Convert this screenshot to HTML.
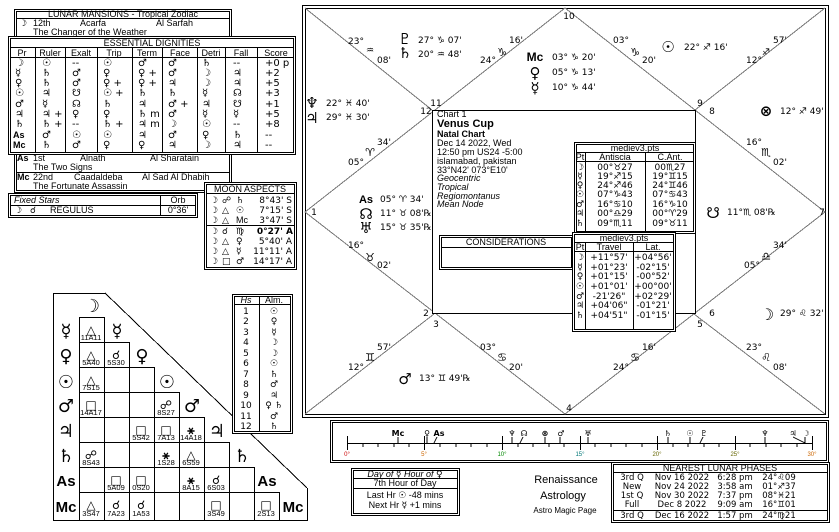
<!DOCTYPE html>
<html><head><meta charset="utf-8"><style>
html,body{margin:0;padding:0;background:#fff;width:839px;height:532px;overflow:hidden}
svg{display:block;font-family:"Liberation Sans","DejaVu Sans",sans-serif;font-size:9px}
text{fill:#000}
.s{font-family:"DejaVu Sans","Liberation Sans",sans-serif}
.b{font-weight:bold}
.c{text-anchor:middle}
.r{text-anchor:end}
.i{font-style:italic}
line,rect,polyline,path{stroke:#000;fill:none;shape-rendering:crispEdges}
</style></head><body>
<svg width="839" height="532" viewBox="0 0 839 532" xmlns="http://www.w3.org/2000/svg">

<!-- ===== MAIN CHART ===== -->
<rect x="302.5" y="5.5" width="526" height="412"/>
<rect x="305.5" y="8.5" width="520" height="406"/>
<g>
<line x1="305" y1="8" x2="432" y2="110" style="stroke:#777"/>
<line x1="825" y1="8" x2="695" y2="110" style="stroke:#777"/>
<line x1="305" y1="414" x2="434" y2="314" style="stroke:#777"/>
<line x1="825" y1="414" x2="694" y2="314" style="stroke:#777"/>
<polyline points="565,8 305,212 565,414 825,212 565,8" style="stroke:#777"/>
</g>
<rect x="432.5" y="110.5" width="263" height="203" style="fill:#fff"/>

<g class="s">
<text x="569" y="19" class="c">10</text>
<text x="436" y="106" class="c">11</text><text x="426" y="114" class="c">12</text>
<text x="700" y="106" class="c">9</text><text x="712" y="114" class="c">8</text>
<text x="314" y="215" class="c">1</text><text x="822" y="215" class="c">7</text>
<text x="426" y="316" class="c">2</text><text x="436" y="327" class="c">3</text>
<text x="712" y="316" class="c">6</text><text x="700" y="327" class="c">5</text>
<text x="569" y="411" class="c">4</text>

<text x="356" y="44" class="c">23°</text><text x="370" y="53" class="c">♒</text><text x="384" y="63" class="c">08'</text>
<text x="516" y="43" class="c">16'</text><text x="502" y="56" class="c" style="font-size:11px">♑</text><text x="488" y="63" class="c">24°</text>
<text x="621" y="43" class="c">03°</text><text x="635" y="56" class="c" style="font-size:11px">♑</text><text x="649" y="63" class="c">20'</text>
<text x="780" y="43" class="c">57'</text><text x="766" y="55" class="c">♐</text><text x="754" y="63" class="c">12°</text>
<text x="384" y="145" class="c">34'</text><text x="370" y="156" class="c" style="font-size:11px">♈</text><text x="356" y="165" class="c">05°</text>
<text x="754" y="145" class="c">16°</text><text x="766" y="156" class="c" style="font-size:11px">♏</text><text x="780" y="165" class="c">02'</text>
<text x="356" y="248" class="c">16°</text><text x="370" y="261" class="c" style="font-size:11px">♉</text><text x="384" y="268" class="c">02'</text>
<text x="780" y="248" class="c">34'</text><text x="766" y="260" class="c" style="font-size:11px">♎</text><text x="752" y="268" class="c">05°</text>
<text x="384" y="350" class="c">57'</text><text x="370" y="361" class="c" style="font-size:11px">♊</text><text x="356" y="370" class="c">12°</text>
<text x="488" y="350" class="c">03°</text><text x="502" y="361" class="c" style="font-size:11px">♋</text><text x="516" y="370" class="c">20'</text>
<text x="649" y="350" class="c">16'</text><text x="635" y="361" class="c" style="font-size:11px">♋</text><text x="621" y="370" class="c">24°</text>
<text x="754" y="350" class="c">23°</text><text x="766" y="361" class="c" style="font-size:11px">♌</text><text x="780" y="370" class="c">08'</text>

<text x="405" y="44" class="c b" style="font-size:15px">♇</text><text x="418" y="43">27° ♑ 07'</text>
<text x="405" y="58" class="c b" style="font-size:15px">♄</text><text x="418" y="57">20° ♒ 48'</text>
<text x="535" y="61" class="c b" style="font-size:12px;font-family:'Liberation Sans'">Mc</text><text x="552" y="60">03° ♑ 20'</text>
<text x="535" y="78" class="c b" style="font-size:15px">♀</text><text x="552" y="75">05° ♑ 13'</text>
<text x="535" y="93" class="c b" style="font-size:15px">☿</text><text x="552" y="90">10° ♑ 44'</text>
<text x="668" y="52" class="c b" style="font-size:15px">☉</text><text x="684" y="50">22° ♐ 16'</text>
<text x="312" y="108" class="c b" style="font-size:15px">♆</text><text x="326" y="106">22° ♓ 40'</text>
<text x="312" y="123" class="c b" style="font-size:15px">♃</text><text x="326" y="120">29° ♓ 30'</text>
<text x="766" y="116" class="c b" style="font-size:15px">⊗</text><text x="780" y="114">12° ♐ 49'</text>
<text x="366" y="203" class="c b" style="font-size:11px;font-family:'Liberation Sans'">As</text><text x="380" y="202">05° ♈ 34'</text>
<text x="366" y="219" class="c b" style="font-size:15px">☊</text><text x="380" y="216">11° ♉ 08'℞</text>
<text x="366" y="233" class="c b" style="font-size:15px">♅</text><text x="380" y="230">15° ♉ 35'℞</text>
<text x="713" y="218" class="c b" style="font-size:15px">☋</text><text x="727" y="215">11°♏ 08'℞</text>
<text x="767" y="320" class="c b" style="font-size:16px">☽</text><text x="780" y="316">29° ♌ 32'</text>
<text x="405" y="384" class="c b" style="font-size:15px">♂</text><text x="419" y="381">13° ♊ 49'℞</text>
</g>

<!-- center text -->
<text x="437" y="117">Chart 1</text>
<text x="437" y="127" class="b" style="font-size:11px">Venus Cup</text>
<text x="437" y="137" class="b">Natal Chart</text>
<text x="437" y="146">Dec 14 2022, Wed</text>
<text x="437" y="155">12:50 pm  US24 -5:00</text>
<text x="437" y="164">islamabad, pakistan</text>
<text x="437" y="173">33°N42' 073°E10'</text>
<text x="437" y="181" class="i">Geocentric</text>
<text x="437" y="190" class="i">Tropical</text>
<text x="437" y="199" class="i">Regiomontanus</text>
<text x="437" y="207" class="i">Mean Node</text>

<rect x="439.5" y="235.5" width="134" height="34" style="fill:#fff"/>
<rect x="441.5" y="237.5" width="130" height="30"/>
<line x1="441" y1="247.5" x2="572" y2="247.5"/>
<text x="506" y="245" class="c">CONSIDERATIONS</text>

<!-- mediev table 1 -->
<rect x="574.5" y="142.5" width="121" height="91" style="fill:#fff"/>
<rect x="576.5" y="144.5" width="117" height="87"/>
<line x1="576" y1="152.5" x2="694" y2="152.5"/>
<line x1="576" y1="161.5" x2="694" y2="161.5"/>
<line x1="585.5" y1="152" x2="585.5" y2="232"/>
<line x1="645.5" y1="152" x2="645.5" y2="232"/>
<text x="635" y="151" class="c">mediev3.pts</text>
<text x="580" y="160" class="c">Pt</text><text x="615" y="160" class="c">Antiscia</text><text x="670" y="160" class="c">C.Ant.</text>
<g class="s">
<text x="580" y="170" class="c b">☽</text><text x="615" y="170" class="c">00°♉27</text><text x="670" y="170" class="c">00♏27</text>
<text x="580" y="179" class="c b">☿</text><text x="615" y="179" class="c">19°♐15</text><text x="670" y="179" class="c">19°♊15</text>
<text x="580" y="188" class="c b">♀</text><text x="615" y="188" class="c">24°♐46</text><text x="670" y="188" class="c">24°♊46</text>
<text x="580" y="197" class="c b">☉</text><text x="615" y="197" class="c">07°♑43</text><text x="670" y="197" class="c">07°♋43</text>
<text x="580" y="207" class="c b">♂</text><text x="615" y="207" class="c">16°♋10</text><text x="670" y="207" class="c">16°♑10</text>
<text x="580" y="216" class="c b">♃</text><text x="615" y="216" class="c">00°♎29</text><text x="670" y="216" class="c">00°♈29</text>
<text x="580" y="226" class="c b">♄</text><text x="615" y="226" class="c">09°♏11</text><text x="670" y="226" class="c">09°♉11</text>
</g>

<!-- mediev table 2 -->
<rect x="572.5" y="232.5" width="103" height="99" style="fill:#fff"/>
<rect x="574.5" y="234.5" width="99" height="95"/>
<line x1="574" y1="242.5" x2="674" y2="242.5"/>
<line x1="574" y1="251.5" x2="674" y2="251.5"/>
<line x1="585.5" y1="242" x2="585.5" y2="330"/>
<line x1="633.5" y1="242" x2="633.5" y2="330"/>
<text x="624" y="241" class="c">mediev3.pts</text>
<text x="580" y="250" class="c">Pt</text><text x="609" y="250" class="c">Travel</text><text x="653" y="250" class="c">Lat.</text>
<g class="s">
<text x="580" y="260" class="c b">☽</text><text x="609" y="260" class="c">+11°57'</text><text x="653" y="260" class="c">+04°56'</text>
<text x="580" y="270" class="c b">☿</text><text x="609" y="270" class="c">+01°23'</text><text x="653" y="270" class="c">-02°15'</text>
<text x="580" y="279" class="c b">♀</text><text x="609" y="279" class="c">+01°15'</text><text x="653" y="279" class="c">-00°52'</text>
<text x="580" y="289" class="c b">☉</text><text x="609" y="289" class="c">+01°01'</text><text x="653" y="289" class="c">+00°00'</text>
<text x="580" y="299" class="c b">♂</text><text x="609" y="299" class="c">-21'26"</text><text x="653" y="299" class="c">+02°29'</text>
<text x="580" y="308" class="c b">♃</text><text x="609" y="308" class="c">+04'06"</text><text x="653" y="308" class="c">-01°21'</text>
<text x="580" y="318" class="c b">♄</text><text x="609" y="318" class="c">+04'51"</text><text x="653" y="318" class="c">-01°15'</text>
</g>

<!-- ===== LUNAR MANSIONS ===== -->
<rect x="14.5" y="9.5" width="217" height="183" style="fill:#fff"/>
<rect x="16.5" y="11.5" width="213" height="179"/>
<line x1="16" y1="18.5" x2="230" y2="18.5"/>
<text x="123" y="17" class="c">LUNAR MANSIONS - Tropical Zodiac</text>
<text x="19" y="26" class="s b">☽</text><text x="33" y="26">12th</text><text x="80" y="26">Acarfa</text><text x="156" y="26">Al Sarfah</text>
<text x="33" y="35">The Changer of the Weather</text>
<text x="17" y="161" class="b">As</text><text x="33" y="161">1st</text><text x="80" y="161">Alnath</text><text x="150" y="161">Al Sharatain</text>
<text x="33" y="170">The Two Signs</text>
<line x1="16" y1="172.5" x2="230" y2="172.5"/>
<text x="17" y="180" class="b">Mc</text><text x="33" y="180">22nd</text><text x="74" y="180">Caadaldeba</text><text x="142" y="180">Al Sad Al Dhabih</text>
<text x="33" y="189">The Fortunate Assassin</text>

<!-- ===== ESSENTIAL DIGNITIES ===== -->
<rect x="8.5" y="36.5" width="287" height="118" style="fill:#fff"/>
<rect x="10.5" y="38.5" width="283" height="114"/>
<line x1="10" y1="47.5" x2="294" y2="47.5"/>
<line x1="10" y1="57.5" x2="294" y2="57.5"/>
<g>
<line x1="35.5" y1="47" x2="35.5" y2="153"/><line x1="65.5" y1="47" x2="65.5" y2="153"/>
<line x1="97.5" y1="47" x2="97.5" y2="153"/><line x1="132.5" y1="47" x2="132.5" y2="153"/>
<line x1="162.5" y1="47" x2="162.5" y2="153"/><line x1="197.5" y1="47" x2="197.5" y2="153"/>
<line x1="225.5" y1="47" x2="225.5" y2="153"/><line x1="257.5" y1="47" x2="257.5" y2="153"/>
</g>
<text x="152" y="46" class="c">ESSENTIAL DIGNITIES</text>
<text x="22" y="56" class="c">Pr</text><text x="50" y="56" class="c">Ruler</text><text x="81" y="56" class="c">Exalt</text><text x="114" y="56" class="c">Trip</text><text x="147" y="56" class="c">Term</text><text x="180" y="56" class="c">Face</text><text x="211" y="56" class="c">Detri</text><text x="241" y="56" class="c">Fall</text><text x="276" y="56" class="c">Score</text>
<g class="s" style="font-size:10px">
<text x="15" y="66" class="b">☽</text><text x="42" y="66">☉</text><text x="72" y="66">--</text><text x="103" y="66">☉</text><text x="138" y="66">♂</text><text x="168" y="66">♂</text><text x="202" y="66">♄</text><text x="233" y="66">--</text><text x="265" y="66">+0  p</text>
<text x="15" y="76" class="b">☿</text><text x="42" y="76">♄</text><text x="72" y="76">♂</text><text x="103" y="76">♀</text><text x="138" y="76">♀  +</text><text x="168" y="76">♂</text><text x="202" y="76">☽</text><text x="233" y="76">♃</text><text x="265" y="76">+2</text>
<text x="15" y="86" class="b">♀</text><text x="42" y="86">♄</text><text x="72" y="86">♂</text><text x="103" y="86">♀  +</text><text x="138" y="86">♀  +</text><text x="168" y="86">♃</text><text x="202" y="86">☽</text><text x="233" y="86">♃</text><text x="265" y="86">+5</text>
<text x="15" y="96" class="b">☉</text><text x="42" y="96">♃</text><text x="72" y="96">☋</text><text x="103" y="96">☉  +</text><text x="138" y="96">♄</text><text x="168" y="96">♄</text><text x="202" y="96">☿</text><text x="233" y="96">☊</text><text x="265" y="96">+3</text>
<text x="15" y="107" class="b">♂</text><text x="42" y="107">☿</text><text x="72" y="107">☊</text><text x="103" y="107">♄</text><text x="138" y="107">♃</text><text x="168" y="107">♂  +</text><text x="202" y="107">♃</text><text x="233" y="107">☋</text><text x="265" y="107">+1</text>
<text x="15" y="117" class="b">♃</text><text x="42" y="117">♃  +</text><text x="72" y="117">♀</text><text x="103" y="117">♀</text><text x="138" y="117">♄  m</text><text x="168" y="117">♂</text><text x="202" y="117">☿</text><text x="233" y="117">☿</text><text x="265" y="117">+5</text>
<text x="15" y="127" class="b">♄</text><text x="42" y="127">♄  +</text><text x="72" y="127">--</text><text x="103" y="127">♄  +</text><text x="138" y="127">♃  m</text><text x="168" y="127">☽</text><text x="202" y="127">☉</text><text x="233" y="127">--</text><text x="265" y="127">+8</text>
<text x="13" y="138" class="b" style="font-family:'Liberation Sans';font-size:9px">As</text><text x="42" y="138">♂</text><text x="72" y="138">☉</text><text x="103" y="138">☉</text><text x="138" y="138">♃</text><text x="168" y="138">♂</text><text x="202" y="138">♀</text><text x="233" y="138">♄</text><text x="265" y="138">--</text>
<text x="13" y="148" class="b" style="font-family:'Liberation Sans';font-size:9px">Mc</text><text x="42" y="148">♄</text><text x="72" y="148">♂</text><text x="103" y="148">♀</text><text x="138" y="148">♀</text><text x="168" y="148">♃</text><text x="202" y="148">☽</text><text x="233" y="148">♃</text><text x="265" y="148">--</text>
</g>

<!-- ===== FIXED STARS ===== -->
<rect x="8.5" y="193.5" width="189" height="24" style="fill:#fff"/>
<rect x="10.5" y="195.5" width="185" height="20"/>
<line x1="10" y1="205.5" x2="196" y2="205.5"/>
<line x1="160.5" y1="195" x2="160.5" y2="216"/>
<text x="14" y="203" class="i">Fixed Stars</text><text x="178" y="203" class="c">Orb</text>
<text x="14" y="213" class="s">☽</text><text x="30" y="213" class="s">☌</text><text x="50" y="213">REGULUS</text><text x="178" y="213" class="c">0°36'</text>

<!-- ===== MOON ASPECTS ===== -->
<rect x="204.5" y="182.5" width="92" height="87" style="fill:#fff"/>
<rect x="206.5" y="184.5" width="88" height="83"/>
<line x1="206" y1="193.5" x2="295" y2="193.5"/>
<line x1="206" y1="225.5" x2="295" y2="225.5"/>
<text x="250" y="192" class="c">MOON ASPECTS</text>
<g class="s">
<text x="210" y="203">☽</text><text x="222" y="203">☍</text><text x="236" y="203">♄</text><text x="292" y="203" class="r">8°43' S</text>
<text x="210" y="213">☽</text><text x="222" y="213">△</text><text x="236" y="213">☉</text><text x="292" y="213" class="r">7°15' S</text>
<text x="210" y="223">☽</text><text x="222" y="223">△</text><text x="236" y="223" style="font-family:'Liberation Sans'">Mc</text><text x="292" y="223" class="r">3°47' S</text>
<text x="210" y="234">☽</text><text x="222" y="234">☌</text><text x="236" y="234">♍</text><text x="293" y="234" class="r b">0°27' A</text>
<text x="210" y="244">☽</text><text x="222" y="244">△</text><text x="236" y="244">♀</text><text x="292" y="244" class="r">5°40' A</text>
<text x="210" y="254">☽</text><text x="222" y="254">△</text><text x="236" y="254">☿</text><text x="292" y="254" class="r">11°11' A</text>
<text x="210" y="264">☽</text><text x="222" y="264">□</text><text x="236" y="264">♂</text><text x="292" y="264" class="r">14°17' A</text>
</g>

<!-- ===== ASPECT GRID ===== -->
<polyline points="105,293.5 53.5,293.5 53.5,520.5 307,520.5"/>
<line x1="105" y1="293" x2="307" y2="488" style="stroke:#000"/>
<line x1="307.5" y1="488" x2="307.5" y2="521"/>
<g>
<line x1="79.5" y1="317" x2="79.5" y2="520"/>
<line x1="104.5" y1="317" x2="104.5" y2="520"/>
<line x1="129.5" y1="342" x2="129.5" y2="520"/>
<line x1="154.5" y1="367" x2="154.5" y2="520"/>
<line x1="179.5" y1="392" x2="179.5" y2="520"/>
<line x1="204.5" y1="417" x2="204.5" y2="520"/>
<line x1="229.5" y1="442" x2="229.5" y2="520"/>
<line x1="254.5" y1="467" x2="254.5" y2="520"/>
<line x1="279.5" y1="492" x2="279.5" y2="520"/>
<line x1="79" y1="317.5" x2="104" y2="317.5"/>
<line x1="79" y1="342.5" x2="129" y2="342.5"/>
<line x1="79" y1="367.5" x2="154" y2="367.5"/>
<line x1="79" y1="392.5" x2="179" y2="392.5"/>
<line x1="79" y1="417.5" x2="204" y2="417.5"/>
<line x1="79" y1="442.5" x2="229" y2="442.5"/>
<line x1="79" y1="467.5" x2="254" y2="467.5"/>
<line x1="79" y1="492.5" x2="279" y2="492.5"/>
</g>
<g class="s b" style="font-size:18px">
<text x="92" y="312" class="c">☽</text>
<text x="66" y="337" class="c">☿</text><text x="117" y="337" class="c">☿</text>
<text x="66" y="362" class="c">♀</text><text x="142" y="362" class="c">♀</text>
<text x="66" y="388" class="c">☉</text><text x="167" y="388" class="c">☉</text>
<text x="66" y="412" class="c">♂</text><text x="192" y="412" class="c">♂</text>
<text x="66" y="437" class="c">♃</text><text x="217" y="437" class="c">♃</text>
<text x="66" y="462" class="c">♄</text><text x="242" y="462" class="c">♄</text>
</g>
<g class="b" style="font-size:15px">
<text x="66" y="486" class="c">As</text><text x="267" y="486" class="c">As</text>
<text x="66" y="512" class="c">Mc</text><text x="293" y="512" class="c">Mc</text>
</g>
<g class="s b" style="font-size:12px">
<text x="91" y="334" class="c">△</text><text x="91" y="359" class="c">△</text><text x="116" y="359" class="c">☌</text>
<text x="91" y="384" class="c">△</text><text x="91" y="409" class="c">□</text><text x="166" y="409" class="c">☍</text>
<text x="141" y="434" class="c">□</text><text x="166" y="434" class="c">□</text><text x="191" y="434" class="c">⚹</text>
<text x="91" y="459" class="c">☍</text><text x="166" y="459" class="c">⚹</text><text x="191" y="459" class="c">△</text>
<text x="116" y="484" class="c">□</text><text x="141" y="484" class="c">□</text><text x="191" y="484" class="c">⚹</text><text x="216" y="484" class="c">☌</text>
<text x="91" y="509" class="c">△</text><text x="116" y="509" class="c">☌</text><text x="141" y="509" class="c">☌</text><text x="216" y="509" class="c">□</text><text x="266" y="509" class="c">□</text>
</g>
<g style="font-size:7.5px">
<text x="91" y="340" class="c">11A11</text><text x="91" y="365" class="c">5A40</text><text x="116" y="365" class="c">5S30</text>
<text x="91" y="390" class="c">7S15</text><text x="91" y="415" class="c">14A17</text><text x="166" y="415" class="c">8S27</text>
<text x="141" y="440" class="c">5S42</text><text x="166" y="440" class="c">7A13</text><text x="191" y="440" class="c">14A18</text>
<text x="91" y="465" class="c">8S43</text><text x="166" y="465" class="c">1S28</text><text x="191" y="465" class="c">6S59</text>
<text x="116" y="490" class="c">5A09</text><text x="141" y="490" class="c">0S20</text><text x="191" y="490" class="c">8A15</text><text x="216" y="490" class="c">6S03</text>
<text x="91" y="516" class="c">3S47</text><text x="116" y="516" class="c">7A23</text><text x="141" y="516" class="c">1A53</text><text x="216" y="516" class="c">3S49</text><text x="266" y="516" class="c">2S13</text>
</g>

<!-- ===== HOUSE ALMUTEN ===== -->
<rect x="232.5" y="294.5" width="60" height="139" style="fill:#fff"/>
<rect x="234.5" y="296.5" width="56" height="135"/>
<line x1="234" y1="304.5" x2="291" y2="304.5"/>
<line x1="259.5" y1="296" x2="259.5" y2="432"/>
<text x="246" y="303" class="c i">Hs</text><text x="274" y="303" class="c">Alm.</text>
<g class="s" style="font-size:9px">
<text x="246" y="314" class="c">1</text><text x="274" y="314" class="c">☉</text>
<text x="246" y="324" class="c">2</text><text x="274" y="324" class="c">♀</text>
<text x="246" y="335" class="c">3</text><text x="274" y="335" class="c">☿</text>
<text x="246" y="345" class="c">4</text><text x="274" y="345" class="c">☽</text>
<text x="246" y="356" class="c">5</text><text x="274" y="356" class="c">☽</text>
<text x="246" y="366" class="c">6</text><text x="274" y="366" class="c">☉</text>
<text x="246" y="377" class="c">7</text><text x="274" y="377" class="c">♄</text>
<text x="246" y="387" class="c">8</text><text x="274" y="387" class="c">♂</text>
<text x="246" y="398" class="c">9</text><text x="274" y="398" class="c">♃</text>
<text x="246" y="408" class="c">10</text><text x="274" y="408" class="c">♀ ♄</text>
<text x="246" y="419" class="c">11</text><text x="274" y="419" class="c">♂</text>
<text x="246" y="429" class="c">12</text><text x="274" y="429" class="c">♄</text>
</g>

<!-- ===== TIMELINE ===== -->
<rect x="330.5" y="420.5" width="498" height="42"/>
<rect x="332.5" y="422.5" width="494" height="38"/>
<line x1="347" y1="443.5" x2="812" y2="443.5"/>
<g>
<line x1="347.5" y1="436" x2="347.5" y2="450"/><line x1="424.5" y1="436" x2="424.5" y2="450"/>
<line x1="502.5" y1="436" x2="502.5" y2="450"/><line x1="580.5" y1="436" x2="580.5" y2="450"/>
<line x1="657.5" y1="436" x2="657.5" y2="450"/><line x1="735.5" y1="436" x2="735.5" y2="450"/>
<line x1="812.5" y1="436" x2="812.5" y2="450"/>
</g>
<path d="M363,443v4M378,443v4M394,443v4M409,443v4M440,443v4M456,443v4M471,443v4M487,443v4M518,443v4M533,443v4M549,443v4M564,443v4M595,443v4M611,443v4M626,443v4M642,443v4M673,443v4M688,443v4M704,443v4M719,443v4M750,443v4M766,443v4M781,443v4M797,443v4"/>
<path d="M398,437v6M427,437v6M437,437l-3,6M512,437v6M523,437l-3,6M545,437v6M560,437v6M588,437v6M668,437v6M690,437v6M703,437l-3,6M765,437v6M793,437l12,6M805,437v6"/>
<g style="font-size:6px">
<text x="347" y="456" class="c" style="fill:#c00">0°</text><text x="424" y="456" class="c" style="fill:#c60">5°</text>
<text x="502" y="456" class="c" style="fill:#080">10°</text><text x="580" y="456" class="c" style="fill:#077">15°</text>
<text x="657" y="456" class="c" style="fill:#660">20°</text><text x="735" y="456" class="c" style="fill:#660">25°</text>
<text x="812" y="456" class="c" style="fill:#c60">30°</text>
</g>
<g class="s b" style="font-size:8px">
<text x="398" y="436" class="c">Mc</text><text x="427" y="436" class="c">♀</text><text x="439" y="436" class="c">As</text>
<text x="512" y="436" class="c">♆</text><text x="524" y="436" class="c">☊</text><text x="545" y="436" class="c">⊗</text><text x="561" y="436" class="c">♂</text>
<text x="588" y="436" class="c">♅</text><text x="668" y="436" class="c">♄</text><text x="690" y="436" class="c">☉</text><text x="704" y="436" class="c">♇</text>
<text x="765" y="436" class="c">♆</text><text x="793" y="436" class="c">♃</text><text x="806" y="436" class="c">☽</text>
</g>

<!-- ===== DAY/HOUR ===== -->
<rect x="351.5" y="468.5" width="108" height="47"/>
<rect x="353.5" y="470.5" width="104" height="43"/>
<line x1="353" y1="478.5" x2="458" y2="478.5"/>
<line x1="353" y1="488.5" x2="458" y2="488.5"/>
<text x="405" y="477" class="c"><tspan class="i">Day of</tspan> <tspan class="s b">☿</tspan>   <tspan class="i">Hour of</tspan> <tspan class="s b">♀</tspan></text>
<text x="405" y="486" class="c">7th Hour of Day</text>
<text x="405" y="498" class="c">Last Hr <tspan class="s">☉</tspan>  -48 mins</text>
<text x="405" y="508" class="c">Next Hr <tspan class="s">☿</tspan>  +1 mins</text>

<text x="566" y="483" class="c" style="font-size:11px">Renaissance</text>
<text x="563" y="499" class="c" style="font-size:11px">Astrology</text>
<text x="565" y="513" class="c" style="font-size:8px">Astro Magic Page</text>

<!-- ===== LUNAR PHASES ===== -->
<rect x="611.5" y="462.5" width="218" height="60"/>
<rect x="613.5" y="464.5" width="214" height="56"/>
<line x1="613" y1="472.5" x2="828" y2="472.5"/>
<line x1="613" y1="510.5" x2="828" y2="510.5"/>
<text x="720" y="471" class="c">NEAREST LUNAR PHASES</text>
<g class="s" style="font-size:8.5px">
<text x="632" y="480" class="c">3rd Q</text><text x="682" y="480" class="c">Nov 16 2022</text><text x="735" y="480" class="c">6:28 pm</text><text x="779" y="480" class="c">24°♌09</text>
<text x="632" y="489" class="c">New</text><text x="682" y="489" class="c">Nov 24 2022</text><text x="735" y="489" class="c">3:58 am</text><text x="779" y="489" class="c">01°♐37</text>
<text x="632" y="498" class="c">1st Q</text><text x="682" y="498" class="c">Nov 30 2022</text><text x="735" y="498" class="c">7:37 pm</text><text x="779" y="498" class="c">08°♓21</text>
<text x="632" y="507" class="c">Full</text><text x="682" y="507" class="c">Dec 8 2022</text><text x="735" y="507" class="c">9:09 am</text><text x="779" y="507" class="c">16°♊01</text>
<text x="632" y="518" class="c">3rd Q</text><text x="682" y="518" class="c">Dec 16 2022</text><text x="735" y="518" class="c">1:57 pm</text><text x="779" y="518" class="c">24°♍21</text>
</g>
</svg>
</body></html>
